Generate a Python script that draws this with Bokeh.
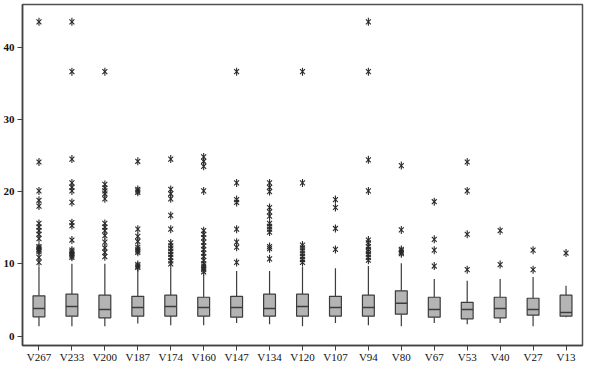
import math
from bokeh.plotting import figure
from bokeh.models import FactorRange, Range1d, ColumnDataSource, FixedTicker
from bokeh.transform import dodge
from bokeh.embed import file_html
from bokeh.resources import INLINE

cats = ["V267", "V233", "V200", "V187", "V174", "V160", "V147", "V134", "V120",
        "V107", "V94", "V80", "V67", "V53", "V40", "V27", "V13"]
lower = [1.36, 1.36, 1.36, 1.73, 1.5, 1.5, 1.82, 1.64, 1.36, 1.82, 1.5, 1.36, 1.82, 1.64, 1.82, 1.36, 2.62]
q1 = [2.67, 2.76, 2.53, 2.76, 2.76, 2.76, 2.62, 2.76, 2.76, 2.76, 2.76, 3.04, 2.62, 2.39, 2.53, 2.9, 2.76]
median = [3.83, 4.1, 3.7, 3.97, 4.1, 3.97, 3.97, 3.83, 4.1, 3.97, 3.97, 4.54, 3.7, 3.7, 3.83, 3.7, 3.27]
q3 = [5.57, 5.8, 5.66, 5.5, 5.66, 5.38, 5.5, 5.8, 5.8, 5.5, 5.66, 6.27, 5.38, 4.68, 5.38, 5.24, 5.66]
upper = [9.6, 10.0, 10.0, 9.2, 9.5, 8.5, 9.0, 9.0, 9.6, 9.4, 9.7, 10.1, 7.9, 7.67, 7.9, 8.18, 6.97]

outliers = [
    [43.5, 24.1, 20.1, 18.8, 18.0, 15.6, 15.1, 14.6, 14.1, 13.5, 12.4, 12.2, 12.0, 11.9, 11.7, 10.9, 10.2],
    [43.5, 36.6, 24.5, 21.2, 20.6, 20.1, 18.5, 15.7, 15.3, 13.3, 11.9, 11.7, 11.5, 11.3, 11.1, 10.9],
    [36.6, 21.0, 20.5, 20.1, 19.7, 19.0, 15.6, 15.1, 14.6, 13.9, 13.0, 12.2, 11.6, 11.0],
    [24.2, 20.3, 20.1, 19.9, 14.8, 13.8, 13.1, 12.3, 12.0, 11.8, 11.6, 9.9, 9.7, 9.5],
    [24.5, 20.3, 19.7, 19.0, 16.7, 14.8, 12.9, 12.5, 12.1, 11.7, 11.3, 10.9, 10.4, 10.0],
    [24.8, 24.2, 23.5, 20.1, 14.6, 14.1, 13.6, 13.0, 12.5, 12.0, 11.5, 11.0, 10.5, 10.0, 9.7, 9.4, 9.2, 8.9],
    [36.6, 21.2, 18.9, 18.5, 14.8, 13.0, 12.3, 10.2],
    [21.2, 20.6, 20.0, 17.8, 17.2, 16.6, 15.6, 15.2, 14.8, 14.4, 12.4, 12.1, 10.7],
    [36.6, 21.2, 12.6, 12.2, 11.8, 11.4, 11.0, 10.6, 10.2],
    [18.9, 17.8, 14.9, 12.0],
    [43.5, 36.6, 24.4, 20.1, 13.3, 12.9, 12.4, 12.0, 11.7, 11.3, 10.9, 10.5],
    [23.6, 14.7, 12.0, 11.8, 11.6, 11.4],
    [18.6, 13.4, 11.9, 9.7],
    [24.1, 20.1, 14.1, 9.2],
    [14.6, 9.9],
    [11.9, 9.2],
    [11.5],
]
y_ticks = [0, 10, 20, 30, 40]

FONT = "Liberation Serif"
DARK = "#3c3c3c"

p = figure(width=584, height=365, output_backend="svg", toolbar_location=None,
           x_range=FactorRange(factors=cats, range_padding=0),
           y_range=Range1d(-1.3, 45.9),
           min_border_left=18, min_border_right=2, min_border_top=4, min_border_bottom=0)
p.grid.visible = False
p.outline_line_color = "#505050"
p.outline_line_width = 1.5

src = ColumnDataSource(dict(cat=cats, lower=lower, q1=q1, median=median, q3=q3, upper=upper))

p.segment(x0="cat", x1="cat", y0="q3", y1="upper", source=src, line_color=DARK, line_width=1.2)
p.segment(x0="cat", x1="cat", y0="lower", y1="q1", source=src, line_color=DARK, line_width=1.2)
p.vbar(x="cat", width=0.36, bottom="q1", top="q3", source=src,
       fill_color="#b4b4b4", line_color=DARK, line_width=1.2)
p.segment(x0=dodge("cat", -0.18, range=p.x_range), x1=dodge("cat", 0.18, range=p.x_range),
          y0="median", y1="median", source=src, line_color=DARK, line_width=1.5)

ox, oy = [], []
for c, vals in zip(cats, outliers):
    for v in vals:
        ox.append(c)
        oy.append(v)
osrc = ColumnDataSource(dict(x=ox, y=oy))
p.scatter(x="x", y="y", source=osrc, marker="x", size=7, line_color="#2a2a2a", line_width=1.1)
p.scatter(x="x", y="y", source=osrc, marker="dash", size=8, angle=math.pi / 2,
          line_color="#2a2a2a", line_width=1.1)

p.yaxis.ticker = FixedTicker(ticks=y_ticks)
p.yaxis.minor_tick_line_color = None
p.yaxis.major_tick_in = 0
p.yaxis.major_tick_out = 5
p.yaxis.major_label_text_font = FONT
p.yaxis.major_label_text_font_style = "bold"
p.yaxis.major_label_text_font_size = "11px"
p.yaxis.major_label_standoff = 3
p.xaxis.major_tick_in = 0
p.xaxis.major_tick_out = 5
p.xaxis.major_label_text_font = FONT
p.xaxis.major_label_text_font_size = "11px"
p.xaxis.major_label_standoff = 0
for ax in (p.xaxis, p.yaxis):
    ax.axis_line_color = "#404040"
    ax.axis_line_width = 1.5
    ax.major_tick_line_color = "#404040"
    ax.major_label_text_color = "#111111"

open("out.html", "w").write(file_html(p, INLINE))
